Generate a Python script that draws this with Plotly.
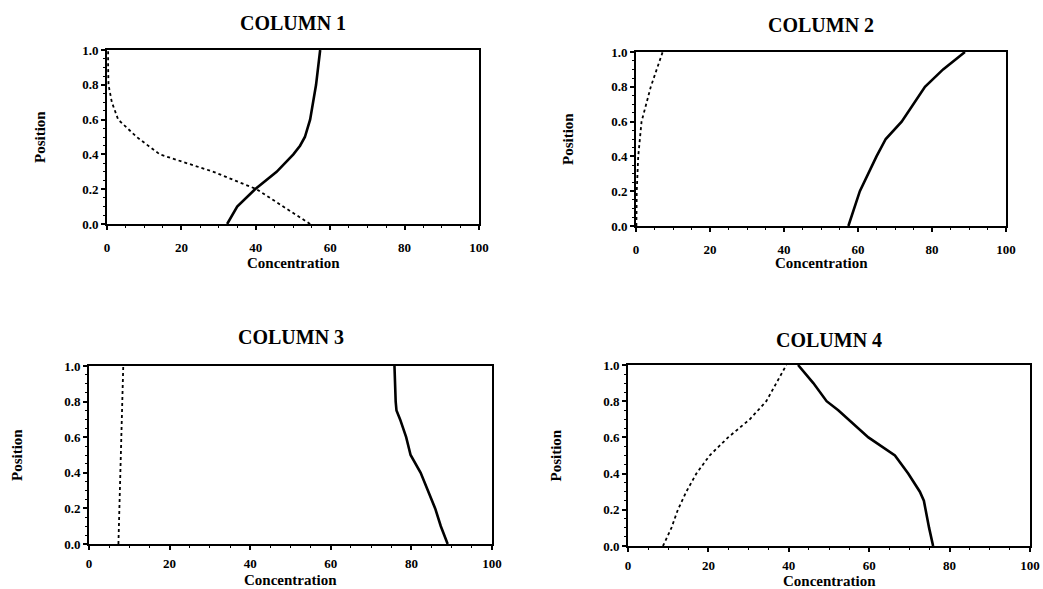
import plotly.graph_objects as go

# Column 1
c1_pos_solid = [0.0, 0.1, 0.2, 0.3, 0.4, 0.45, 0.5, 0.6, 0.8, 1.0]
c1_conc_solid = [32.3, 35.0, 39.8, 45.6, 50.1, 51.9, 53.2, 54.6, 56.2, 57.3]
c1_pos_dot = [0.0, 0.1, 0.2, 0.3, 0.4, 0.5, 0.6, 0.7, 0.8, 0.9, 1.0]
c1_conc_dot = [54.6, 47.4, 40.2, 28.6, 14.2, 8.0, 3.0, 1.3, 0.4, 0.3, 0.3]

# Column 2
c2_pos_solid = [0.0, 0.2, 0.4, 0.5, 0.6, 0.8, 0.9, 1.0]
c2_conc_solid = [57.4, 60.5, 65.0, 67.5, 71.8, 78.1, 83.0, 88.9]
c2_pos_dot = [0.0, 0.2, 0.4, 0.6, 0.8, 1.0]
c2_conc_dot = [0.1, 0.2, 0.6, 1.5, 4.0, 7.2]

# Column 3
c3_pos_solid = [0.0, 0.1, 0.2, 0.4, 0.5, 0.6, 0.7, 0.75, 0.8, 0.9, 1.0]
c3_conc_solid = [89.0, 87.3, 85.9, 82.3, 79.8, 78.7, 77.2, 76.3, 76.1, 75.9, 75.8]
c3_pos_dot = [0.0, 0.3, 0.5, 1.0]
c3_conc_dot = [7.3, 7.7, 7.9, 8.5]

# Column 4
c4_pos_solid = [0.0, 0.1, 0.25, 0.3, 0.4, 0.5, 0.6, 0.75, 0.8, 0.9, 1.0]
c4_conc_solid = [75.9, 74.9, 73.6, 72.6, 69.7, 66.4, 59.8, 52.3, 49.4, 46.1, 42.3]
c4_pos_dot = [0.0, 0.1, 0.2, 0.3, 0.4, 0.5, 0.6, 0.7, 0.8, 0.9, 1.0]
c4_conc_dot = [8.7, 10.8, 12.4, 14.5, 17.0, 20.3, 24.9, 30.3, 34.4, 36.9, 39.4]

titles = ["COLUMN 1", "COLUMN 2", "COLUMN 3", "COLUMN 4"]
x_ticks = [0, 20, 40, 60, 80, 100]
y_ticks = [0.0, 0.2, 0.4, 0.6, 0.8, 1.0]
y_ticklabels = ["0.0", "0.2", "0.4", "0.6", "0.8", "1.0"]

panels = [
    (c1_conc_solid, c1_pos_solid, c1_conc_dot, c1_pos_dot),
    (c2_conc_solid, c2_pos_solid, c2_conc_dot, c2_pos_dot),
    (c3_conc_solid, c3_pos_solid, c3_conc_dot, c3_pos_dot),
    (c4_conc_solid, c4_pos_solid, c4_conc_dot, c4_pos_dot),
]

W, H = 1043, 589
# pixel boxes: left, right, top, bottom
boxes = [(107, 479, 50, 224), (636, 1006, 52, 226), (89, 492, 366, 544), (628, 1030, 365, 546)]
title_off = [27, 27, 29, 25]
xlab_off = [39, 37, 36, 35]
tick_standoff = [6, 6, 2, 2]
ylab_x = [40, 568, 17, 555]

FONT = "Liberation Serif"
fig = go.Figure()
layout = dict(
    width=W, height=H, margin=dict(l=0, r=0, t=0, b=0, autoexpand=False),
    paper_bgcolor="white", plot_bgcolor="white", showlegend=False,
    font=dict(family=FONT, color="black"),
)
annotations = []
for i, ((xs, ys, xd, yd), (l, r, t, b)) in enumerate(zip(panels, boxes)):
    n = "" if i == 0 else str(i + 1)
    xa, ya = "x" + n, "y" + n
    fig.add_trace(go.Scatter(x=xd, y=yd, mode="lines", xaxis=xa, yaxis=ya,
                             line=dict(color="black", width=1.8, dash="dot")))
    fig.add_trace(go.Scatter(x=xs, y=ys, mode="lines", xaxis=xa, yaxis=ya,
                             line=dict(color="black", width=2.6)))
    layout["xaxis" + n] = dict(
        domain=[l / W, r / W], anchor=ya, range=[0, 100], tickvals=x_ticks,
        ticks="outside", ticklen=4, tickwidth=1.5, tickcolor="black",
        showline=True, linecolor="black", linewidth=2, mirror=True,
        showgrid=False, zeroline=False, automargin=False, ticklabelstandoff=tick_standoff[i],
        tickfont=dict(family=FONT, size=13, color="black", weight="bold"),
        minor=dict(dtick=5, ticks="outside", ticklen=2, tickwidth=1, tickcolor="black"),
    )
    layout["yaxis" + n] = dict(
        domain=[1 - b / H, 1 - t / H], anchor=xa, range=[0, 1], tickvals=y_ticks,
        ticktext=y_ticklabels,
        ticks="outside", ticklen=4, tickwidth=1.5, tickcolor="black",
        showline=True, linecolor="black", linewidth=2, mirror=True,
        showgrid=False, zeroline=False, automargin=False,
        tickfont=dict(family=FONT, size=13, color="black", weight="bold"),
        minor=dict(dtick=0.05, ticks="outside", ticklen=2, tickwidth=1, tickcolor="black"),
    )
    cx = (l + r) / 2
    annotations.append(dict(text=titles[i], x=cx / W, y=1 - (t - title_off[i]) / H, xref="paper", yref="paper",
                            showarrow=False, xanchor="center", yanchor="middle",
                            font=dict(family=FONT, size=20, color="black", weight="bold")))
    annotations.append(dict(text="Concentration", x=cx / W, y=1 - (b + xlab_off[i]) / H, xref="paper", yref="paper",
                            showarrow=False, xanchor="center", yanchor="middle",
                            font=dict(family=FONT, size=15, color="black", weight="bold")))
    annotations.append(dict(text="Position", x=ylab_x[i] / W, y=1 - ((t + b) / 2) / H, xref="paper", yref="paper",
                            showarrow=False, xanchor="center", yanchor="middle", textangle=-90,
                            font=dict(family=FONT, size=15, color="black", weight="bold")))

layout["annotations"] = annotations
fig.update_layout(**layout)
fig.write_html("out.html", config={"displayModeBar": False},
               post_script="document.body.style.margin='0';document.body.style.overflow='hidden';")
